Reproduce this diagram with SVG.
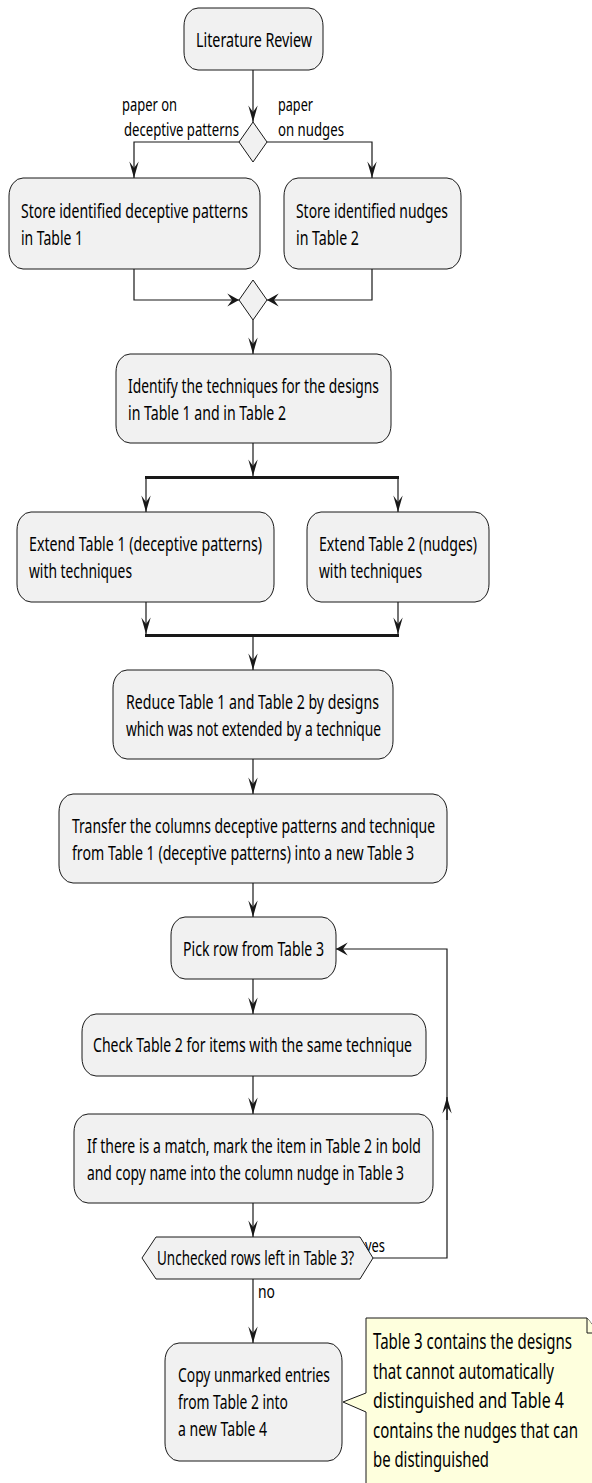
<svg xmlns="http://www.w3.org/2000/svg" width="592" height="1483" viewBox="0 0 592 1483">
<style>
.box{fill:#F1F1F1;stroke:#181818;stroke-width:1}
.t{font-family:"Noto Sans","DejaVu Sans",sans-serif;font-size:20px;fill:#000}
.lbl{font-size:18.3px}
.nt{font-size:21.5px}
.edge{fill:none;stroke:#181818;stroke-width:1.2}
.bar{fill:#181818}
.note{fill:#FEFFDD;stroke:#181818;stroke-width:1}
</style>
<defs>
<marker id="av" markerUnits="userSpaceOnUse" orient="auto" refX="0" refY="0" markerWidth="20" markerHeight="20" overflow="visible">
<path d="M0,0 L-16.6,-4.7 L-10,0 L-16.6,4.7 Z" fill="#181818"/>
</marker>
<marker id="ah" markerUnits="userSpaceOnUse" orient="auto" refX="0" refY="0" markerWidth="20" markerHeight="20" overflow="visible">
<path d="M0,0 L-11.7,-6.6 L-7,0 L-11.7,6.6 Z" fill="#181818"/>
</marker>
</defs>
<rect width="592" height="1483" fill="#FFFFFF"/>

<g id="connectors">
<path class="edge" d="M253,70 V122" marker-end="url(#av)"/>
<path class="edge" d="M239,142 H134 V178" marker-end="url(#av)"/>
<path class="edge" d="M267,142 H372 V178" marker-end="url(#av)"/>
<path class="edge" d="M134,269 V300 H239" marker-end="url(#ah)"/>
<path class="edge" d="M372,269 V300 H267" marker-end="url(#ah)"/>
<path class="edge" d="M253,320 V354" marker-end="url(#av)"/>
<path class="edge" d="M253,443 V476" marker-end="url(#av)"/>
<path class="edge" d="M146,479 V512" marker-end="url(#av)"/>
<path class="edge" d="M398,479 V512" marker-end="url(#av)"/>
<path class="edge" d="M146,602 V634" marker-end="url(#av)"/>
<path class="edge" d="M398,602 V634" marker-end="url(#av)"/>
<path class="edge" d="M253,637 V670" marker-end="url(#av)"/>
<path class="edge" d="M253,759 V794" marker-end="url(#av)"/>
<path class="edge" d="M253,883 V917" marker-end="url(#av)"/>
<path class="edge" d="M253,979 V1014" marker-end="url(#av)"/>
<path class="edge" d="M253,1076 V1114" marker-end="url(#av)"/>
<path class="edge" d="M253,1203 V1237" marker-end="url(#av)"/>
<path class="edge" d="M373,1258 H447 V949 H336" marker-end="url(#ah)"/>
<path class="edge" d="M447,1120 V1097" marker-end="url(#av)"/>
<path class="edge" d="M253,1279 V1343" marker-end="url(#av)"/>
<text class="t lbl" transform="translate(122,111) scale(0.71,1)" textLength="77.5" lengthAdjust="spacingAndGlyphs">paper on</text>
<text class="t lbl" transform="translate(124,135.5) scale(0.71,1)" textLength="162" lengthAdjust="spacingAndGlyphs">deceptive patterns</text>
<text class="t lbl" transform="translate(278,111) scale(0.71,1)" textLength="49.3" lengthAdjust="spacingAndGlyphs">paper</text>
<text class="t lbl" transform="translate(278,135.5) scale(0.71,1)" textLength="93" lengthAdjust="spacingAndGlyphs">on nudges</text>
<text class="t lbl" transform="translate(365,1252) scale(0.71,1)" textLength="28.2" lengthAdjust="spacingAndGlyphs">yes</text>
<text class="t lbl" transform="translate(258,1298) scale(0.71,1)" textLength="23.9" lengthAdjust="spacingAndGlyphs">no</text>
</g>

<g id="literature-review">
<rect class="box" x="184" y="8" width="139" height="62" rx="14" ry="18"/>
<text class="t" transform="translate(196,46.5) scale(0.71,1)" textLength="163.4" lengthAdjust="spacingAndGlyphs">Literature Review</text>
</g>

<g id="decision-paper">
<polygon class="box" points="253,122 267,142 253,162 239,142"/>
</g>

<g id="store-deceptive">
<rect class="box" x="9" y="178" width="251" height="91" rx="14" ry="18"/>
<text class="t" transform="translate(21,218) scale(0.71,1)" textLength="319.7" lengthAdjust="spacingAndGlyphs">Store identified deceptive patterns</text>
<text class="t" transform="translate(21,245) scale(0.71,1)" textLength="87.3" lengthAdjust="spacingAndGlyphs">in Table 1</text>
</g>

<g id="store-nudges">
<rect class="box" x="284" y="178" width="177" height="91" rx="14" ry="18"/>
<text class="t" transform="translate(296,218) scale(0.71,1)" textLength="214.1" lengthAdjust="spacingAndGlyphs">Store identified nudges</text>
<text class="t" transform="translate(296,245) scale(0.71,1)" textLength="88.7" lengthAdjust="spacingAndGlyphs">in Table 2</text>
</g>

<g id="merge">
<polygon class="box" points="253,280 267,300 253,320 239,300"/>
</g>

<g id="identify">
<rect class="box" x="116" y="354" width="275" height="89" rx="14" ry="18"/>
<text class="t" transform="translate(128,393) scale(0.71,1)" textLength="353.5" lengthAdjust="spacingAndGlyphs">Identify the techniques for the designs</text>
<text class="t" transform="translate(128,420) scale(0.71,1)" textLength="222.5" lengthAdjust="spacingAndGlyphs">in Table 1 and in Table 2</text>
</g>

<g id="fork">
<rect class="bar" x="145" y="476" width="254" height="3"/>
</g>

<g id="extend-1">
<rect class="box" x="17" y="512" width="257" height="90" rx="14" ry="18"/>
<text class="t" transform="translate(29,551) scale(0.71,1)" textLength="328.2" lengthAdjust="spacingAndGlyphs">Extend Table 1 (deceptive patterns)</text>
<text class="t" transform="translate(29,578) scale(0.71,1)" textLength="145.1" lengthAdjust="spacingAndGlyphs">with techniques</text>
</g>

<g id="extend-2">
<rect class="box" x="307" y="512" width="182" height="90" rx="14" ry="18"/>
<text class="t" transform="translate(319,551) scale(0.71,1)" textLength="222.5" lengthAdjust="spacingAndGlyphs">Extend Table 2 (nudges)</text>
<text class="t" transform="translate(319,578) scale(0.71,1)" textLength="145.1" lengthAdjust="spacingAndGlyphs">with techniques</text>
</g>

<g id="join">
<rect class="bar" x="145" y="634" width="254" height="3"/>
</g>

<g id="reduce">
<rect class="box" x="113" y="670" width="280" height="89" rx="14" ry="18"/>
<text class="t" transform="translate(126,709) scale(0.71,1)" textLength="356.3" lengthAdjust="spacingAndGlyphs">Reduce Table 1 and Table 2 by designs</text>
<text class="t" transform="translate(126,736) scale(0.71,1)" textLength="359.2" lengthAdjust="spacingAndGlyphs">which was not extended by a technique</text>
</g>

<g id="transfer">
<rect class="box" x="59" y="794" width="388" height="89" rx="14" ry="18"/>
<text class="t" transform="translate(72,833) scale(0.71,1)" textLength="511.3" lengthAdjust="spacingAndGlyphs">Transfer the columns deceptive patterns and technique</text>
<text class="t" transform="translate(72,860) scale(0.71,1)" textLength="481.7" lengthAdjust="spacingAndGlyphs">from Table 1 (deceptive patterns) into a new Table 3</text>
</g>

<g id="pick-row">
<rect class="box" x="171" y="917" width="165" height="62" rx="14" ry="18"/>
<text class="t" transform="translate(183,955.5) scale(0.71,1)" textLength="198.6" lengthAdjust="spacingAndGlyphs">Pick row from Table 3</text>
</g>

<g id="check">
<rect class="box" x="82" y="1014" width="344" height="62" rx="14" ry="18"/>
<text class="t" transform="translate(93,1052) scale(0.71,1)" textLength="449.3" lengthAdjust="spacingAndGlyphs">Check Table 2 for items with the same technique</text>
</g>

<g id="match">
<rect class="box" x="74" y="1114" width="359" height="89" rx="14" ry="18"/>
<text class="t" transform="translate(87,1153) scale(0.71,1)" textLength="470.4" lengthAdjust="spacingAndGlyphs">If there is a match, mark the item in Table 2 in bold</text>
<text class="t" transform="translate(87,1180) scale(0.71,1)" textLength="446.5" lengthAdjust="spacingAndGlyphs">and copy name into the column nudge in Table 3</text>
</g>

<g id="unchecked">
<polygon class="box" points="142,1258 156,1237 360,1237 373,1258 360,1279 156,1279"/>
<text class="t" transform="translate(157,1265) scale(0.71,1)" textLength="277.5" lengthAdjust="spacingAndGlyphs">Unchecked rows left in Table 3?</text>
</g>

<g id="copy">
<rect class="box" x="165" y="1343" width="177" height="118" rx="14" ry="18"/>
<text class="t" transform="translate(178,1382) scale(0.71,1)" textLength="214.1" lengthAdjust="spacingAndGlyphs">Copy unmarked entries</text>
<text class="t" transform="translate(178,1409) scale(0.71,1)" textLength="154.9" lengthAdjust="spacingAndGlyphs">from Table 2 into</text>
<text class="t" transform="translate(178,1436) scale(0.71,1)" textLength="125.4" lengthAdjust="spacingAndGlyphs">a new Table 4</text>
</g>

<g id="note">
<path class="note" d="M366,1318 H587 L599,1333 V1492 H366 V1412 L343,1402 L366,1393 Z"/>
<path class="note" d="M587,1318 V1333 H599"/>
<text class="t nt" transform="translate(373,1349) scale(0.71,1)" textLength="280.3" lengthAdjust="spacingAndGlyphs">Table 3 contains the designs</text>
<text class="t nt" transform="translate(373,1378.5) scale(0.71,1)" textLength="254.9" lengthAdjust="spacingAndGlyphs">that cannot automatically</text>
<text class="t nt" transform="translate(373,1408) scale(0.71,1)" textLength="269" lengthAdjust="spacingAndGlyphs">distinguished and Table 4</text>
<text class="t nt" transform="translate(373,1437.5) scale(0.71,1)" textLength="288.7" lengthAdjust="spacingAndGlyphs">contains the nudges that can</text>
<text class="t nt" transform="translate(373,1467) scale(0.71,1)" textLength="163.4" lengthAdjust="spacingAndGlyphs">be distinguished</text>
</g>
</svg>
